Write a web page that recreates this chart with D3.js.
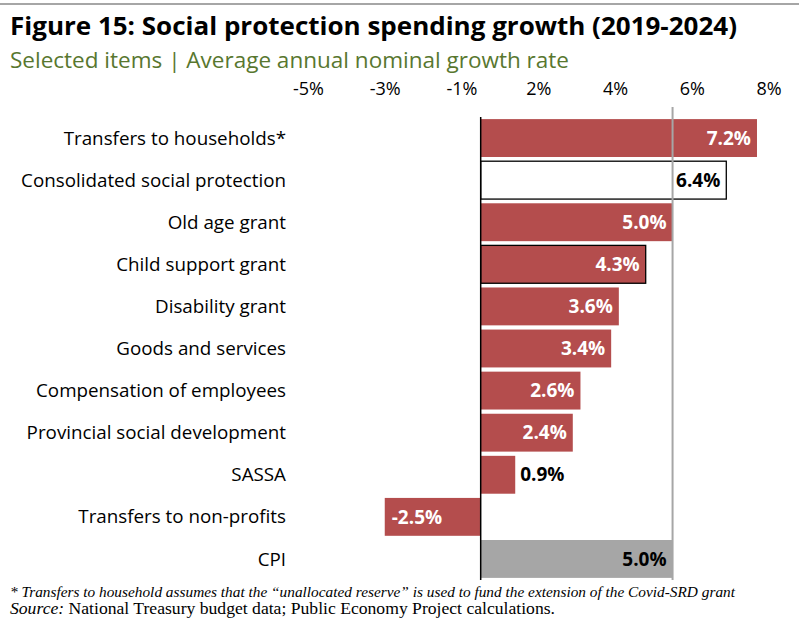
<!DOCTYPE html>
<html>
<head>
<meta charset="utf-8">
<script src="https://cdn.jsdelivr.net/npm/d3@7"></script>
<style>
  body { margin: 0; background: #fff; }
  svg { display: block; }
</style>
</head>
<body>
<div id="chart"></div>
<script>
// data
var categories = ["Transfers to households*", "Consolidated social protection", "Old age grant",
  "Child support grant", "Disability grant", "Goods and services", "Compensation of employees",
  "Provincial social development", "SASSA", "Transfers to non-profits", "CPI"];
var growth = [7.2, 6.4, 5.0, 4.3, 3.6, 3.4, 2.6, 2.4, 0.9, -2.5, 5.0];
// Excel puts the ticks half way and rounds the labels
var tickValues = [-4.5, -2.5, -0.5, 1.5, 3.5, 5.5, 7.5];
var tickLabels = ["-5%", "-3%", "-1%", "2%", "4%", "6%", "8%"];
var cpiLine = 5.0;

var w = 799, h = 620;
var red = "#b44d4d", grey = "#a6a6a6";
var font = "'Open Sans', sans-serif";

var svg = d3.select("#chart").append("svg")
  .attr("width", w).attr("height", h);

// top rule
svg.append("rect").attr("x", 0).attr("y", 3).attr("width", w).attr("height", 2).attr("fill", grey);

svg.append("text")
  .attr("x", 10).attr("y", 35)
  .attr("font-family", font).attr("font-weight", "bold").attr("font-size", "25px")
  .attr("textLength", 727).attr("lengthAdjust", "spacingAndGlyphs")
  .attr("fill", "#000")
  .text("Figure 15: Social protection spending growth (2019-2024)");

svg.append("text")
  .attr("x", 10).attr("y", 68)
  .attr("font-family", font).attr("font-size", "21px")
  .attr("textLength", 559).attr("lengthAdjust", "spacingAndGlyphs")
  .attr("fill", "#58772f")
  .text("Selected items | Average annual nominal growth rate");

var x = d3.scaleLinear().domain([-4.5, 7.5]).range([308, 768.5]);
var y = d3.scaleBand().domain(categories).range([117, 580]).paddingInner(0.1).paddingOuter(0.05);

// x axis on top
var xAxis = d3.axisTop(x).tickValues(tickValues)
  .tickFormat(function(d, i) { return tickLabels[i]; })
  .tickSize(0).tickPadding(0);
var gx = svg.append("g").attr("transform", "translate(0,95)").call(xAxis);
gx.select(".domain").remove();
gx.selectAll("text").attr("font-family", font).attr("font-size", "18px").attr("fill", "#000");

// category labels
svg.selectAll("text.cat")
  .data(categories)
  .enter()
  .append("text")
  .attr("class", "cat")
  .attr("x", 286)
  .attr("y", function(d) { return y(d) + y.bandwidth() / 2; })
  .attr("dy", "0.35em")
  .attr("text-anchor", "end")
  .attr("font-family", font).attr("font-size", "18.8px").attr("fill", "#000")
  .text(function(d) { return d; });

function fillOf(i) {
  if (categories[i] == "CPI") return grey;
  if (categories[i] == "Consolidated social protection") return "#fff";
  return red;
}
function strokeOf(i) {
  var c = categories[i];
  if (c == "Consolidated social protection" || c == "Child support grant") return "#000";
  return "none";
}

svg.selectAll("rect.bar")
  .data(growth)
  .enter()
  .append("rect")
  .attr("class", "bar")
  .attr("x", function(d) { return x(Math.min(0, d)); })
  .attr("y", function(d, i) { return y(categories[i]); })
  .attr("width", function(d) { return Math.abs(x(d) - x(0)); })
  .attr("height", y.bandwidth())
  .attr("fill", function(d, i) { return fillOf(i); })
  .attr("stroke", function(d, i) { return strokeOf(i); })
  .attr("stroke-width", 1.3);

// zero line and CPI reference line
svg.append("line")
  .attr("x1", x(0)).attr("x2", x(0)).attr("y1", 117).attr("y2", 580)
  .attr("stroke", "#000").attr("stroke-width", 1.5);
svg.append("line")
  .attr("x1", x(cpiLine)).attr("x2", x(cpiLine)).attr("y1", 107).attr("y2", 580)
  .attr("stroke", grey).attr("stroke-width", 2);

// value labels
svg.selectAll("text.val")
  .data(growth)
  .enter()
  .append("text")
  .attr("class", "val")
  .attr("x", function(d) {
    if (d < 0) return x(d) + 7;
    if (d < 2) return x(d) + 5;
    return x(d) - 6;
  })
  .attr("y", function(d, i) { return y(categories[i]) + y.bandwidth() / 2; })
  .attr("dy", "0.35em")
  .attr("text-anchor", function(d) { return (d < 2) ? "start" : "end"; })
  .attr("font-family", font).attr("font-size", "19px").attr("font-weight", "bold")
  .attr("fill", function(d, i) {
    var c = categories[i];
    if (c == "CPI" || c == "Consolidated social protection" || d < 2 && d > 0) return "#000";
    return "#fff";
  })
  .text(function(d) { return d.toFixed(1) + "%"; });

// footnotes
svg.append("text")
  .attr("x", 10).attr("y", 597)
  .attr("font-family", "'Liberation Serif', serif").attr("font-style", "italic").attr("font-size", "15.3px")
  .attr("textLength", 725).attr("lengthAdjust", "spacingAndGlyphs")
  .attr("fill", "#000")
  .text("* Transfers to household assumes that the \u201cunallocated reserve\u201d is used to fund the extension of the Covid-SRD grant");

var src = svg.append("text")
  .attr("x", 10).attr("y", 614)
  .attr("font-family", "'Liberation Serif', serif").attr("font-size", "16.5px")
  .attr("textLength", 545).attr("lengthAdjust", "spacingAndGlyphs")
  .attr("fill", "#000");
src.append("tspan").attr("font-style", "italic").text("Source:");
src.append("tspan").text(" National Treasury budget data; Public Economy Project calculations.");
</script>
</body>
</html>
